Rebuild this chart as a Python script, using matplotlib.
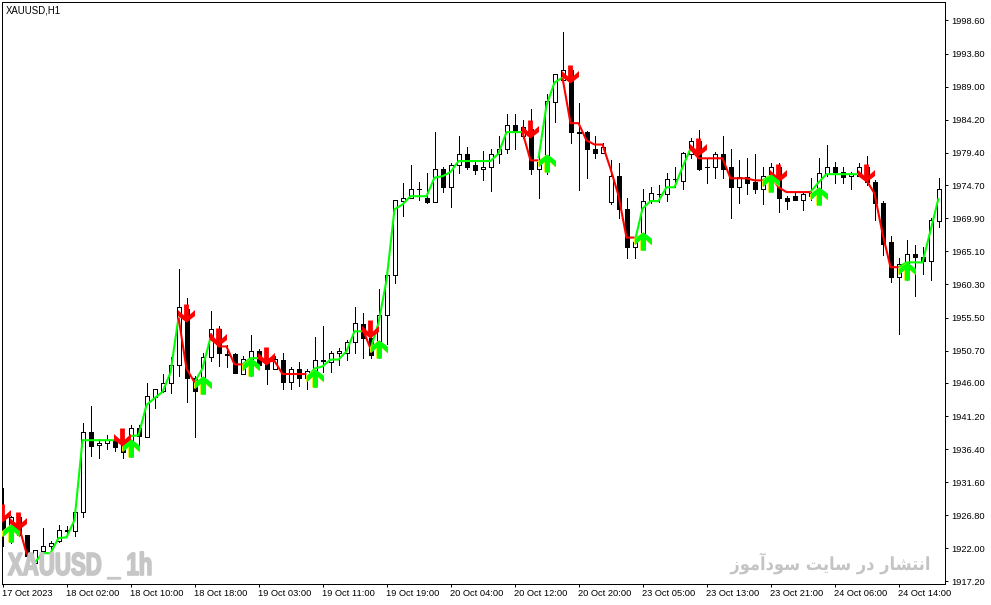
import matplotlib
matplotlib.use("Agg")
import matplotlib.pyplot as plt
import matplotlib.patheffects as pe
from matplotlib.path import Path
from matplotlib.transforms import Affine2D, offset_copy

# H1 candles (bar spacing is 8 px, one tick every 8 bars)
opens = [1926.5, 1924.2, 1926.5, 1923.9, 1919.9, 1921.6, 1922.3, 1923.1, 1924.5, 1924.5,
         1927.3, 1938.9, 1937.0, 1937.3, 1937.7, 1937.3, 1936.5, 1939.4, 1938.1, 1943.9,
         1944.9, 1946.0, 1948.6, 1956.8, 1946.7, 1946.4, 1949.8, 1953.8, 1950.2, 1950.2,
         1947.3, 1948.6, 1950.6, 1949.6, 1948.0, 1949.3, 1946.1, 1948.0, 1946.7, 1946.9,
         1949.3, 1949.0, 1950.4, 1950.4, 1951.9, 1954.5, 1952.6, 1951.4, 1955.8, 1961.6,
         1972.4, 1972.9, 1974.1, 1972.9, 1972.2, 1977.0, 1974.5, 1977.6, 1979.2, 1977.6,
         1977.0, 1977.4, 1979.2, 1979.9, 1983.5, 1981.8, 1982.9, 1977.1, 1978.0, 1986.7,
         1989.9, 1991.4, 1982.4, 1982.4, 1980.0, 1979.3, 1972.2, 1976.1, 1971.3, 1965.8,
         1966.4, 1972.4, 1973.4, 1973.4, 1975.6, 1975.3, 1979.2, 1981.1, 1977.3, 1977.3,
         1979.2, 1977.3, 1974.4, 1975.9, 1975.1, 1974.1, 1975.4, 1977.3, 1972.9, 1973.2,
         1972.6, 1973.2, 1973.5, 1976.3, 1977.4, 1976.6, 1976.0, 1976.1, 1977.3, 1975.1,
         1972.1, 1966.4, 1961.4, 1962.4, 1964.7, 1964.3, 1963.7, 1969.5]
highs = [1930.7, 1926.7, 1927.1, 1923.9, 1921.8, 1925.0, 1923.1, 1925.4, 1925.2, 1928.0,
         1940.2, 1942.6, 1937.8, 1938.4, 1938.1, 1937.7, 1939.9, 1939.9, 1946.0, 1945.1,
         1947.3, 1949.8, 1962.5, 1958.4, 1947.0, 1950.3, 1956.4, 1954.2, 1951.5, 1950.4,
         1949.9, 1953.0, 1950.9, 1949.8, 1949.9, 1950.4, 1948.3, 1949.0, 1948.0, 1952.7,
         1954.2, 1950.6, 1951.1, 1952.2, 1957.0, 1956.2, 1953.6, 1959.7, 1961.6, 1972.6,
         1975.0, 1977.6, 1975.1, 1976.4, 1982.4, 1977.4, 1977.9, 1981.8, 1980.2, 1978.0,
         1979.6, 1979.9, 1981.9, 1985.1, 1985.1, 1984.1, 1985.7, 1980.0, 1987.9, 1990.9,
         1997.0, 1991.9, 1986.6, 1982.5, 1981.9, 1980.8, 1978.3, 1977.9, 1972.9, 1966.9,
         1974.1, 1974.5, 1974.8, 1976.4, 1977.4, 1979.5, 1981.6, 1982.7, 1978.6, 1979.5,
         1981.9, 1979.9, 1978.4, 1978.7, 1979.2, 1977.4, 1977.9, 1977.9, 1973.2, 1973.5,
         1973.6, 1975.7, 1978.6, 1980.6, 1978.0, 1977.3, 1976.6, 1977.9, 1979.0, 1975.4,
         1972.4, 1967.3, 1964.1, 1966.7, 1966.0, 1965.7, 1969.9, 1975.8]
lows = [1922.3, 1922.8, 1923.8, 1920.3, 1919.6, 1919.9, 1921.3, 1922.9, 1923.8, 1923.8,
        1926.5, 1935.4, 1935.1, 1936.4, 1936.1, 1935.1, 1935.2, 1937.0, 1938.1, 1942.3,
        1944.7, 1944.5, 1947.0, 1943.2, 1938.1, 1944.7, 1949.2, 1948.5, 1948.3, 1947.4,
        1947.3, 1947.0, 1948.6, 1945.9, 1948.0, 1945.1, 1945.1, 1945.5, 1945.2, 1945.4,
        1947.6, 1947.6, 1948.6, 1949.4, 1950.3, 1949.6, 1949.6, 1949.6, 1951.7, 1960.5,
        1970.3, 1972.9, 1972.6, 1972.1, 1972.2, 1973.7, 1971.6, 1976.4, 1977.0, 1976.3,
        1975.5, 1973.8, 1977.9, 1979.3, 1979.9, 1981.5, 1976.3, 1972.9, 1976.3, 1983.8,
        1989.6, 1980.8, 1974.0, 1975.7, 1978.6, 1979.3, 1971.9, 1969.9, 1964.1, 1964.1,
        1965.8, 1972.1, 1972.2, 1972.4, 1974.4, 1974.2, 1978.7, 1976.9, 1975.0, 1975.7,
        1975.7, 1969.9, 1972.1, 1973.4, 1973.5, 1971.9, 1973.8, 1970.8, 1971.2, 1972.6,
        1971.1, 1972.5, 1972.1, 1976.1, 1975.0, 1975.0, 1974.1, 1976.0, 1974.8, 1969.6,
        1964.5, 1960.6, 1953.1, 1960.9, 1958.6, 1961.8, 1960.9, 1968.6]
closes = [1924.7, 1926.5, 1923.9, 1920.9, 1921.8, 1922.4, 1922.8, 1924.7, 1924.6, 1927.3,
          1938.9, 1936.8, 1937.3, 1937.7, 1936.7, 1936.0, 1939.4, 1938.3, 1944.1, 1945.1,
          1946.0, 1948.6, 1957.0, 1946.7, 1944.9, 1949.8, 1953.8, 1950.3, 1950.1, 1947.4,
          1949.5, 1950.6, 1948.6, 1948.0, 1949.5, 1946.1, 1948.0, 1946.7, 1947.7, 1949.3,
          1949.2, 1950.4, 1950.7, 1951.9, 1954.7, 1952.5, 1950.1, 1955.8, 1961.6, 1972.5,
          1972.9, 1974.2, 1974.1, 1972.2, 1977.0, 1974.5, 1977.7, 1979.2, 1977.4, 1976.9,
          1977.4, 1979.2, 1979.9, 1983.5, 1982.4, 1983.1, 1977.0, 1978.0, 1986.9, 1990.8,
          1991.4, 1982.4, 1982.3, 1979.9, 1979.3, 1980.2, 1976.1, 1971.2, 1965.8, 1966.4,
          1972.4, 1973.5, 1973.4, 1975.6, 1975.6, 1979.3, 1981.1, 1977.1, 1977.3, 1979.2,
          1977.1, 1974.4, 1975.9, 1975.0, 1974.1, 1976.0, 1977.3, 1972.9, 1972.4, 1972.6,
          1973.4, 1973.6, 1976.4, 1977.4, 1976.6, 1975.9, 1976.3, 1977.3, 1975.1, 1972.1,
          1966.2, 1961.4, 1963.3, 1964.7, 1964.3, 1963.7, 1969.6, 1974.1]

# indicator line, one list of values per coloured stretch
up_start = [4, 15, 24, 30, 38, 46, 67, 79, 95, 101, 112]
up_values = [
    [1919.9, 1921.3, 1921.3, 1923.5, 1923.6, 1926.1, 1937.7, 1937.7, 1937.7, 1937.7, 1937.7],
    [1937.0, 1938.3, 1938.4, 1942.8, 1943.8, 1944.7, 1947.5, 1955.5],
    [1946.1, 1948.1, 1952.6],
    [1948.7, 1949.6, 1949.6],
    [1946.7, 1948.1, 1948.4, 1949.4, 1949.4, 1950.6, 1953.5, 1953.5],
    [1950.9, 1954.7, 1960.9, 1971.2, 1971.9, 1973.1, 1973.1, 1973.1, 1975.8, 1976.0, 1976.6,
     1978.2, 1978.2, 1978.2, 1978.2, 1978.2, 1979.3, 1982.4, 1982.4, 1982.4],
    [1978.6, 1986.3, 1989.6, 1990.3],
    [1966.4, 1971.3, 1972.4, 1972.4, 1974.4, 1974.4, 1977.3, 1980.0],
    [1975.4, 1976.1],
    [1973.7, 1975.1, 1976.3, 1976.3, 1976.3, 1976.3, 1976.3],
    [1962.8, 1963.5, 1963.5, 1963.5, 1968.1, 1972.8],
]
down_start = [1, 14, 22, 26, 32, 45, 65, 70, 86, 96, 107]
down_values = [
    [1925.8, 1925.4, 1921.3, 1919.9],
    [1937.7, 1937.6],
    [1955.5, 1948.1, 1946.1],
    [1953.2, 1951.3, 1951.3, 1948.7, 1948.7],
    [1949.6, 1949.2, 1949.2, 1947.3, 1947.3, 1947.3, 1947.3],
    [1953.9, 1951.0],
    [1982.4, 1978.3, 1978.3],
    [1990.3, 1983.7, 1983.7, 1981.2, 1980.6, 1980.6, 1977.1, 1973.2, 1967.1, 1967.1],
    [1980.0, 1978.6, 1978.6, 1978.6, 1978.6, 1975.7, 1975.7, 1975.7, 1975.4, 1975.4],
    [1976.1, 1974.4, 1973.7, 1973.7, 1973.7, 1973.7],
    [1976.3, 1975.4, 1973.5, 1967.7, 1962.8, 1962.8],
]

# signal arrows: bar and price of the tip
sell_bars = [0, 2, 15, 23, 27, 33, 46, 66, 71, 87, 97, 108]
sell_prices = [1925.8, 1924.7, 1936.8, 1954.8, 1951.4, 1948.6, 1952.6, 1981.5, 1989.5, 1979.0, 1975.1, 1975.1]
buy_bars = [1, 16, 25, 31, 39, 47, 68, 80, 96, 102, 113]
buy_prices = [1925.6, 1937.8, 1947.0, 1949.6, 1948.1, 1952.2, 1979.2, 1967.9, 1976.3, 1974.4, 1963.6]

time_ticks = [0, 8, 16, 24, 32, 40, 48, 56, 64, 72, 80, 88, 96, 104, 112]
time_labels = ["17 Oct 2023", "18 Oct 02:00", "18 Oct 10:00", "18 Oct 18:00", "19 Oct 03:00",
               "19 Oct 11:00", "19 Oct 19:00", "20 Oct 04:00", "20 Oct 12:00", "20 Oct 20:00",
               "23 Oct 05:00", "23 Oct 13:00", "23 Oct 21:00", "24 Oct 06:00", "24 Oct 14:00"]
price_ticks = [1998.6, 1993.8, 1989.0, 1984.2, 1979.4, 1974.7, 1969.9, 1965.1, 1960.3,
               1955.5, 1950.7, 1946.0, 1941.2, 1936.4, 1931.6, 1926.8, 1922.0, 1917.2]

plt.rcParams["font.family"] = ["Liberation Sans", "DejaVu Sans"]


class Squeeze(pe.AbstractPathEffect):
    # narrows drawn text around a pixel x, there is no condensed font installed
    def __init__(self, x0, factor, stroke=0.0):
        super().__init__()
        self.x0 = x0
        self.factor = factor
        self.stroke = stroke

    def draw_path(self, renderer, gc, tpath, affine, rgbFace=None):
        squeeze = Affine2D().translate(-self.x0, 0).scale(self.factor, 1).translate(self.x0, 0)
        gc0 = renderer.new_gc()
        gc0.copy_properties(gc)
        if self.stroke:
            gc0.set_linewidth(self.stroke)
            gc0.set_foreground(rgbFace)
        renderer.draw_path(gc0, tpath, affine + squeeze, rgbFace)
        gc0.restore()


W, H = 991, 605
fig = plt.figure(figsize=(W / 100, H / 100), dpi=100, facecolor="white")
ax = fig.add_axes([1.5 / W, (H - 583.5) / H, 943 / W, 582 / H])
ax.set_xlim(-0.125, 117.75)
ax.set_ylim(1916.905, 2001.355)
for s in ax.spines.values():
    s.set_linewidth(0.72)

# candles
for i in range(len(opens)):
    ax.vlines(i, lows[i], highs[i], color="black", lw=0.72, antialiased=False, zorder=2)
    bull = closes[i] >= opens[i]
    ax.bar(i, abs(closes[i] - opens[i]), 0.5, bottom=min(opens[i], closes[i]),
           facecolor="white" if bull else "black", edgecolor="black",
           linewidth=0.72, antialiased=False, zorder=3)

# indicator
for start, vals in zip(up_start, up_values):
    ax.plot(range(start, start + len(vals)), vals, color="#00FF00", lw=1.5, zorder=4,
            solid_joinstyle="miter", solid_capstyle="butt")
for start, vals in zip(down_start, down_values):
    ax.plot(range(start, start + len(vals)), vals, color="#FF0000", lw=1.5, zorder=4,
            solid_joinstyle="miter", solid_capstyle="butt")

# arrow shape in pixels, tip at the origin
down_arrow = [(0, 0), (8.5, 6.5), (8.5, 12.5), (2.4, 7), (2.4, 18), (-2.4, 18), (-2.4, 7), (-8.5, 12.5), (-8.5, 6.5), (0, 0)]
up_arrow = [(x, -y) for x, y in down_arrow]


def shifted(px):
    return offset_copy(ax.transData, fig=fig, x=px, y=0, units="dots")


arrow_style = dict(ls="none", ms=25.92, mec="none")
ax.plot(sell_bars, sell_prices, marker=Path(down_arrow, closed=True), mfc="#FF0000", zorder=6,
        transform=shifted(-1), **arrow_style)
# the soft colour fringe on the green arrows
ax.plot(buy_bars, buy_prices, marker=Path(up_arrow, closed=True), mfc="#E8F000", zorder=5,
        transform=shifted(-0.7), **arrow_style)
ax.plot(buy_bars, buy_prices, marker=Path(up_arrow, closed=True), mfc="#20E0A0", zorder=5,
        transform=shifted(0.7), **arrow_style)
ax.plot(buy_bars, buy_prices, marker=Path(up_arrow, closed=True), mfc="#00FF00", zorder=6,
        transform=shifted(0), **arrow_style)

ax.set_xticks(time_ticks)
ax.set_xticklabels(time_labels, ha="left", fontsize=6.7)
ax.set_yticks(price_ticks)
ax.set_yticklabels([f"{p:.2f}" for p in price_ticks], fontsize=6.7)
ax.yaxis.tick_right()
ax.tick_params(axis="both", length=2.5, width=0.72, pad=2.5)
ax.tick_params(axis="x", pad=1.5)

fig.text(6 / W, 1 - 10.5 / H, "XAUUSD,H1", fontsize=6.9, va="center", ha="left")

fig.text(8 / W, 1 - 575 / H, "XAUUSD _ 1h", fontsize=23, fontweight="bold", color="#C6C6C6",
         family="Liberation Sans", ha="left", va="baseline", zorder=10,
         path_effects=[Squeeze(8, 0.695, stroke=1.2)])

# matplotlib does not shape Arabic, so the Persian line is given in visual order with joined forms
persian = ("\uFEAF\uFEEE\uFEE3\uFE81\uFEA9\uFEEE\uFEB3 \uFE96\uFBFE\uFE8E\uFEB3 "
           "\uFEAD\uFEA9 \uFEAD\uFE8E\uFEB8\uFE98\uFEE7\uFE8D")
fig.text(930 / W, 1 - 570 / H, persian, fontsize=13, fontweight="bold", color="#C4C4C4",
         family="DejaVu Sans", ha="right", va="baseline", zorder=10,
         path_effects=[Squeeze(930, 0.9)])

fig.savefig("out.png", dpi=100)
